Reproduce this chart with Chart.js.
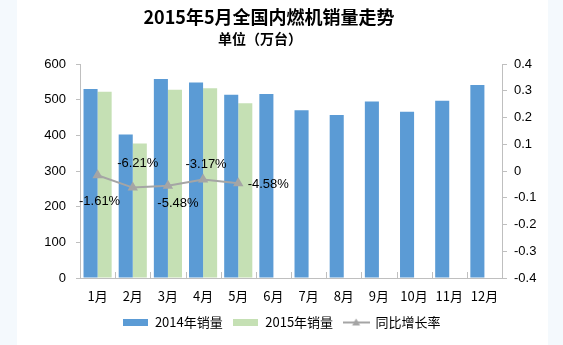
<!DOCTYPE html>
<html>
<head>
<meta charset="utf-8">
<script src="https://cdn.jsdelivr.net/npm/chart.js@4/dist/chart.umd.min.js"></script>
<style>
  html, body { margin: 0; padding: 0; }
  #wrap {
    width: 563px; height: 345px;
    background: linear-gradient(to right, #f4f9fd 17px, #ffffff 17px, #ffffff 548px, #f4f9fd 548px);
  }
</style>
</head>
<body>
<div id="wrap"><canvas id="chart" width="563" height="345"></canvas></div>
<script>
// Chart data
const months = ['1月', '2月', '3月', '4月', '5月', '6月', '7月', '8月', '9月', '10月', '11月', '12月'];
const sales2014 = [530, 402, 558, 548, 514, 516, 470, 457, 495, 466, 497, 541];
const sales2015 = [522, 377, 528, 532, 490, null, null, null, null, null, null, null];
const growthRate = [-0.0161, -0.0621, -0.0548, -0.0317, -0.0458, null, null, null, null, null, null, null];
const growthLabels = ['-1.61%', '-6.21%', '-5.48%', '-3.17%', '-4.58%'];
const leftTicks = [0, 100, 200, 300, 400, 500, 600];
const rightTicks = [-0.4, -0.3, -0.2, -0.1, 0, 0.1, 0.2, 0.3, 0.4];

const FONT = '"Liberation Sans", "Noto Sans CJK SC", sans-serif';
const CJK = '"Noto Sans CJK SC", "Liberation Sans", sans-serif';
const AXIS = '#bfbfbf';

// Small canvases used as legend markers
function boxIcon(color) {
    const c = document.createElement('canvas');
    c.width = 25; c.height = 7;
    const g = c.getContext('2d');
    g.fillStyle = color;
    g.fillRect(0, 0, 25, 7);
    return c;
}
function lineIcon(color) {
    const c = document.createElement('canvas');
    c.width = 27; c.height = 9;
    const g = c.getContext('2d');
    g.strokeStyle = color;
    g.lineWidth = 2;
    g.beginPath(); g.moveTo(0, 4.5); g.lineTo(27, 4.5); g.stroke();
    g.fillStyle = color;
    g.beginPath(); g.moveTo(13.5, 0.5); g.lineTo(17.5, 7.5); g.lineTo(9.5, 7.5); g.closePath(); g.fill();
    return c;
}

// Titles drawn at fixed spots
const titlePlugin = {
    id: 'titles',
    afterDraw(chart) {
        const ctx = chart.ctx;
        ctx.save();
        ctx.fillStyle = '#000';
        ctx.textAlign = 'center';
        ctx.textBaseline = 'middle';
        ctx.font = 'bold 18px ' + CJK;
        ctx.fillText('2015年5月全国内燃机销量走势', 269, 17);
        ctx.font = 'bold 14px ' + CJK;
        ctx.fillText('单位（万台）', 260, 39);
        ctx.restore();
    }
};

// Short tick marks between categories, pointing into the plot
const innerTicks = {
    id: 'innerTicks',
    afterDraw(chart) {
        const x = chart.scales.x;
        const ctx = chart.ctx;
        const step = (x.right - x.left) / months.length;
        ctx.save();
        ctx.strokeStyle = AXIS;
        ctx.lineWidth = 1;
        for (let i = 1; i <= months.length; i++) {
            const px = Math.round(x.left + i * step) + 0.5;
            ctx.beginPath();
            ctx.moveTo(px, x.top);
            ctx.lineTo(px, x.top - 6);
            ctx.stroke();
        }
        ctx.restore();
    }
};

// Value labels for the growth line
const growthLabelPlugin = {
    id: 'growthLabels',
    afterDatasetsDraw(chart, args, opts) {
        const meta = chart.getDatasetMeta(2);
        const ctx = chart.ctx;
        ctx.save();
        ctx.font = '13px ' + FONT;
        ctx.fillStyle = '#000';
        ctx.textAlign = 'center';
        ctx.textBaseline = 'middle';
        growthLabels.forEach((txt, i) => {
            const pt = meta.data[i];
            const off = opts.offsets[i];
            ctx.fillText(txt, pt.x + off[0], pt.y + off[1]);
        });
        ctx.restore();
    }
};

const chart = new Chart(document.getElementById('chart'), {
    data: {
        labels: months,
        datasets: [
            {
                type: 'bar',
                label: '2014年销量',
                data: sales2014,
                backgroundColor: '#5b9bd5',
                yAxisID: 'y',
                order: 2,
            },
            {
                type: 'bar',
                label: '2015年销量',
                data: sales2015,
                backgroundColor: '#c5e0b4',
                yAxisID: 'y',
                order: 2,
            },
            {
                type: 'line',
                label: '同比增长率',
                data: growthRate,
                borderColor: '#a5a5a5',
                backgroundColor: '#a5a5a5',
                borderWidth: 2,
                pointStyle: 'triangle',
                pointRadius: 4,
                pointBackgroundColor: '#a5a5a5',
                pointBorderColor: '#a5a5a5',
                yAxisID: 'y1',
                order: 1,
            },
        ],
    },
    options: {
        responsive: false,
        animation: false,
        events: [],
        layout: { padding: { top: 64, left: 0, right: 0, bottom: 6 } },
        datasets: {
            bar: { categoryPercentage: 0.8, barPercentage: 1.0 },
        },
        scales: {
            x: {
                grid: { display: true, offset: true, drawOnChartArea: false, drawTicks: false },
                border: { color: AXIS },
                ticks: { color: '#000', font: { size: 13, family: CJK }, padding: 10, maxRotation: 0 },
                afterFit(scale) { scale.height = 28; },
            },
            y: {
                position: 'left',
                min: 0, max: 600,
                afterBuildTicks(scale) { scale.ticks = leftTicks.map(v => ({ value: v })); },
                grid: { drawOnChartArea: false, tickLength: 4, color: AXIS },
                border: { color: AXIS },
                ticks: { color: '#000', font: { size: 13, family: FONT }, padding: 10 },
                afterFit(scale) { scale.width = 80; },
            },
            y1: {
                position: 'right',
                min: -0.4, max: 0.4,
                afterBuildTicks(scale) { scale.ticks = rightTicks.map(v => ({ value: v })); },
                grid: { drawOnChartArea: false, tickLength: 5, color: AXIS },
                border: { color: AXIS },
                ticks: {
                    color: '#000', font: { size: 13, family: FONT }, padding: 7,
                    callback: v => String(Math.round(v * 10) / 10),
                },
                afterFit(scale) { scale.width = 61; },
            },
        },
        plugins: {
            title: { display: false },
            tooltip: { enabled: false },
            legend: {
                position: 'bottom',
                labels: {
                    color: '#000',
                    font: { size: 13, family: CJK },
                    usePointStyle: true,
                    pointStyleWidth: 26,
                    padding: 10,
                    generateLabels(ch) {
                        const icons = [boxIcon('#5b9bd5'), boxIcon('#c5e0b4'), lineIcon('#a5a5a5')];
                        return ch.data.datasets.map((ds, i) => ({
                            text: ds.label,
                            pointStyle: icons[i],
                            fillStyle: ds.backgroundColor,
                            strokeStyle: ds.backgroundColor,
                            lineWidth: 0,
                            fontColor: '#000',
                            datasetIndex: i,
                            hidden: false,
                        }));
                    },
                },
            },
            growthLabels: {
                offsets: [[2, 26], [5, -24], [10, 18], [3, -15], [30, 1]],
            },
        },
    },
    plugins: [titlePlugin, innerTicks, growthLabelPlugin],
});
</script>
</body>
</html>
